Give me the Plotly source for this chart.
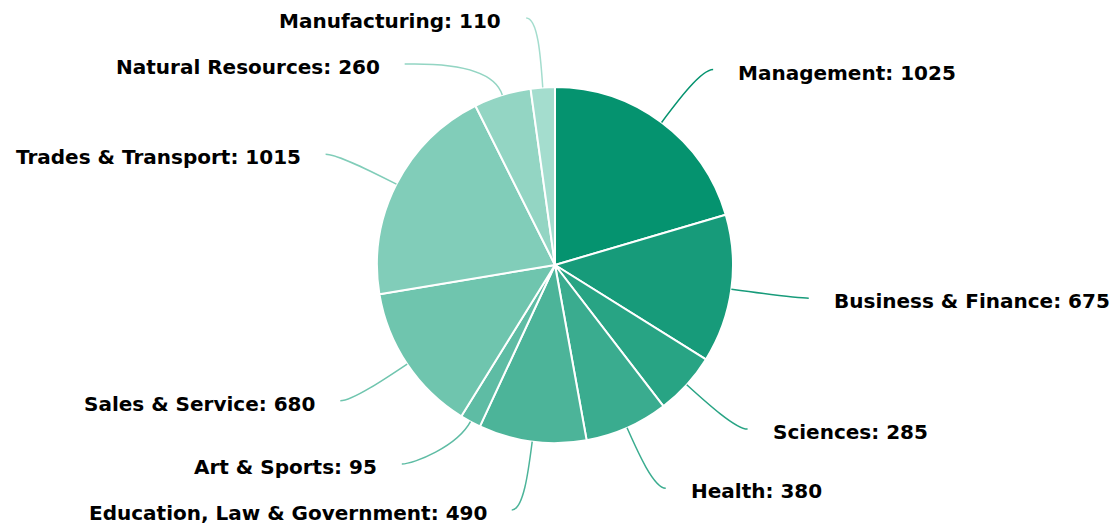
import math
import plotly.graph_objects as go

# ---- data ----
categories = ["Management", "Business & Finance", "Sciences", "Health",
              "Education, Law & Government", "Art & Sports", "Sales & Service",
              "Trades & Transport", "Natural Resources", "Manufacturing"]
values = [1025, 675, 285, 380, 490, 95, 680, 1015, 260, 110]

colors = ["#05936F", "#179B7A", "#28A484", "#3AAC8F", "#4CB499",
          "#5EBCA4", "#6FC5AE", "#81CDB9", "#93D5C3", "#A4DDCE"]

# ---- layout parameters (pixels) ----
W, H = 1114, 525
CX, CY, RAD = 555, 265, 178
LEN1, LEN2, GAP_TXT = 66, 12, 23
MIN_SEP, Y_MIN, Y_MAX = 46, 18, 510
TXT_DY = 3


def to_paper(px, py):
    return px / W, 1 - py / H


fig = go.Figure(go.Pie(
    labels=categories, values=values, sort=False, direction="clockwise",
    rotation=0, marker=dict(colors=colors, line=dict(color="white", width=2)),
    textinfo="none", hoverinfo="label+value",
    domain=dict(x=[(CX - RAD) / W, (CX + RAD) / W],
                y=[1 - (CY + RAD) / H, 1 - (CY - RAD) / H]),
    showlegend=False,
))

total = sum(values)
R = RAD + LEN1
items = []
cum = 0.0
for i, v in enumerate(values):
    mid = (cum + v / 2) / total * 2 * math.pi
    cum += v
    s, c = math.sin(mid), math.cos(mid)
    items.append(dict(i=i, s=s, c=c, side=1 if s >= 0 else -1,
                      y=CY - R * c))

# resolve label overlaps per side
for side in (1, -1):
    grp = sorted([it for it in items if it["side"] == side], key=lambda d: d["y"])
    for _ in range(200):
        for a, b in zip(grp, grp[1:]):
            d = b["y"] - a["y"]
            if d < MIN_SEP:
                push = (MIN_SEP - d) / 2
                a["y"] -= push
                b["y"] += push
        for it in grp:
            it["y"] = min(max(it["y"], Y_MIN), Y_MAX)

shapes, annotations = [], []
for it in items:
    i, s, c, side = it["i"], it["s"], it["c"], it["side"]
    sx, sy = CX + RAD * s, CY - RAD * c
    ey = it["y"]
    dy = ey - CY
    dx = max(abs(R * s), math.sqrt(max(0.0, R * R - dy * dy)))
    ex = CX + side * dx
    tx = ex + side * LEN2
    dist = math.hypot(ex - sx, ey - sy)
    a = 0.4 * dist
    c1 = (sx + s * a, sy - c * a)
    c2 = (ex, ey)
    pts = [to_paper(sx, sy), to_paper(*c1), to_paper(*c2), to_paper(tx, ey)]
    path = "M {:.5f} {:.5f} C {:.5f} {:.5f} {:.5f} {:.5f} {:.5f} {:.5f}".format(
        *[v for p in pts for v in p])
    shapes.append(dict(type="path", xref="paper", yref="paper", path=path,
                       line=dict(color=colors[i], width=1.5)))
    lx, ly = to_paper(tx + side * GAP_TXT, ey + TXT_DY)
    annotations.append(dict(
        x=lx, y=ly, xref="paper", yref="paper", showarrow=False,
        xanchor="left" if side == 1 else "right", yanchor="middle",
        text="<b>{}: {}</b>".format(categories[i], values[i]),
        font=dict(family="DejaVu Sans", size=20, color="#000000")))

fig.update_layout(
    width=W, height=H, margin=dict(l=0, r=0, t=0, b=0),
    paper_bgcolor="white", plot_bgcolor="white",
    shapes=shapes, annotations=annotations,
)

fig.write_html("out.html", config={"displayModeBar": False},
               post_script="document.body.style.margin='0';")
